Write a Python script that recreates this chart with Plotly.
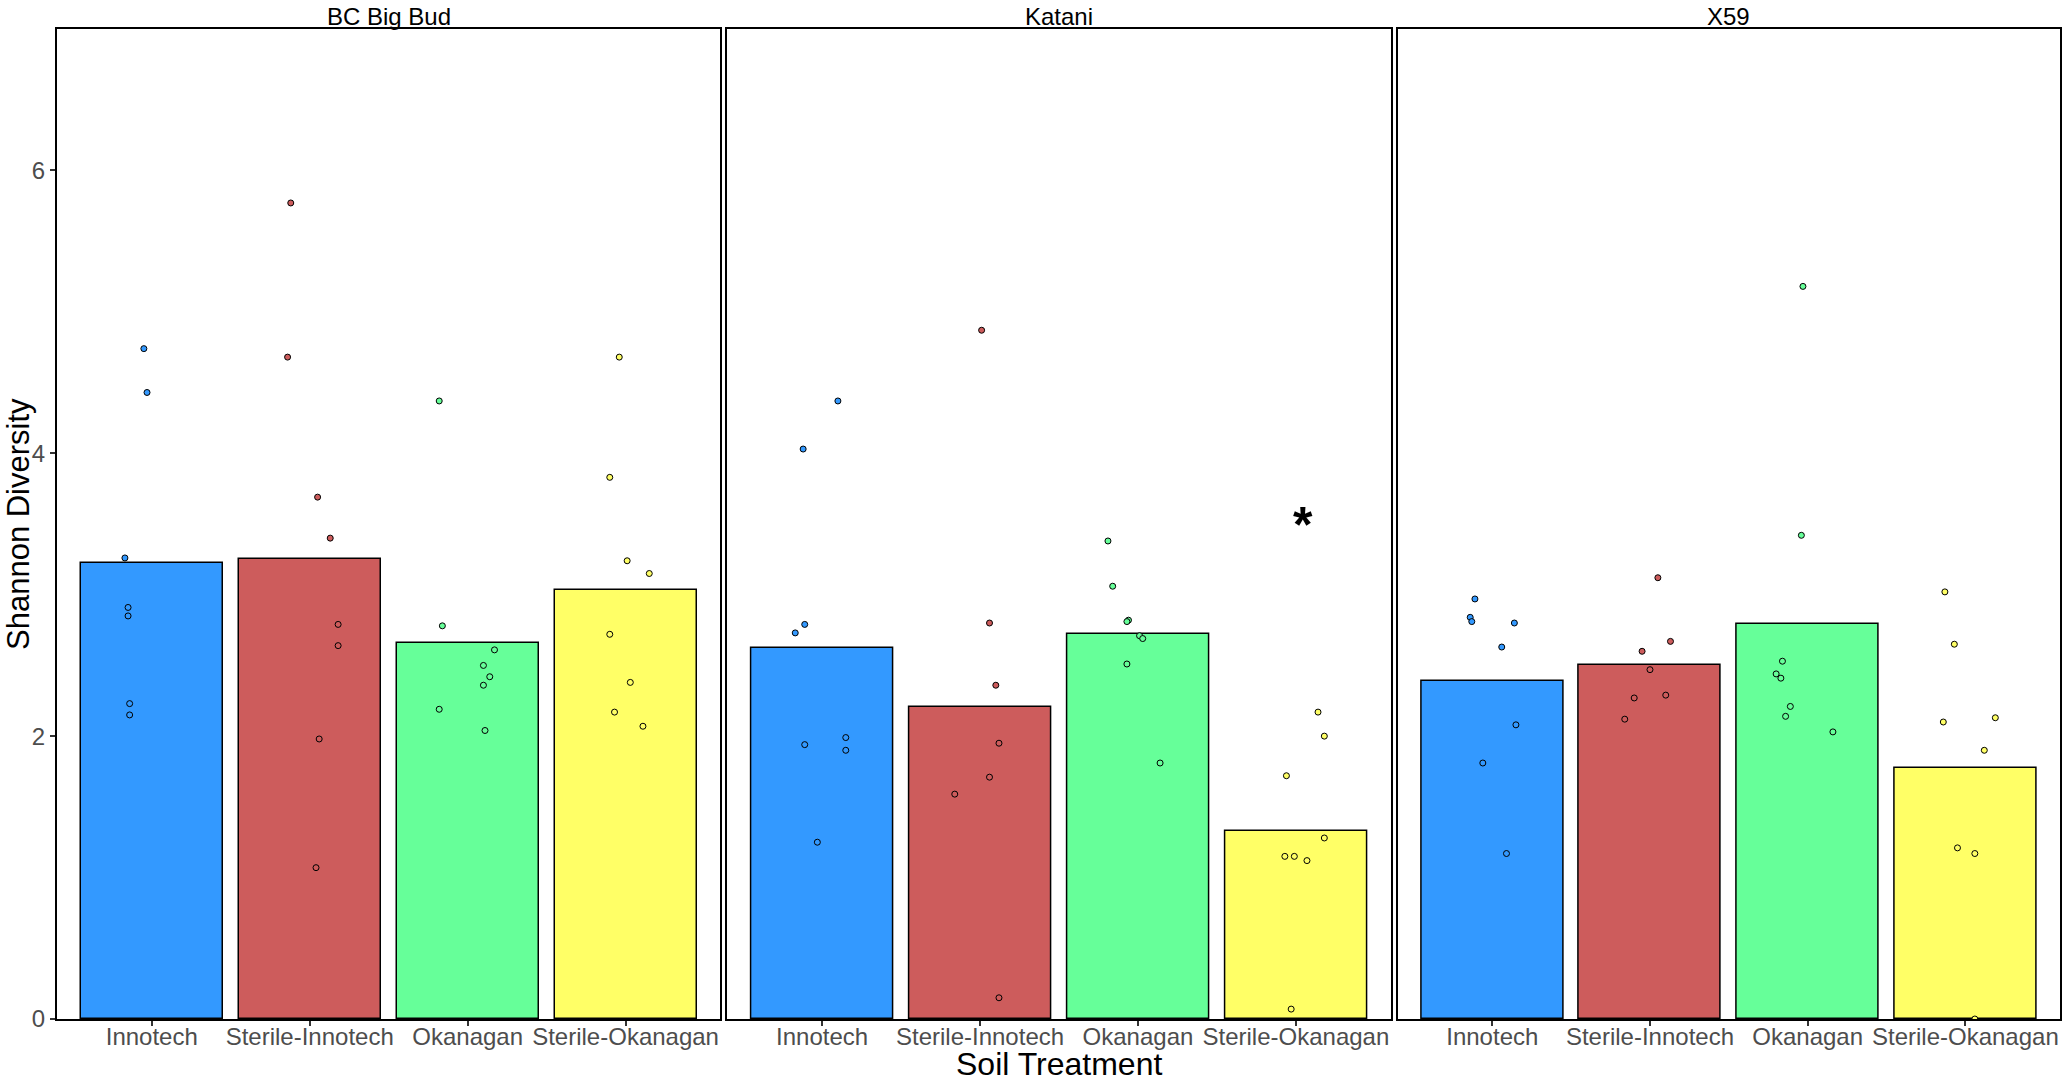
import plotly.graph_objects as go
from plotly.subplots import make_subplots
import numpy as np

cultivars = ["BC Big Bud", "Katani", "X59"]
treatments = ["Innotech", "Sterile-Innotech", "Okanagan", "Sterile-Okanagan"]
colours = ["#3399FF", "#CD5C5C", "#66FF99", "#FFFF66"]

# Shannon diversity of each sample
bigbud_innotech = [4.74, 4.43, 3.26, 2.91, 2.85, 2.23, 2.15]
bigbud_ster_innotech = [5.77, 4.68, 3.69, 3.40, 2.79, 2.64, 1.98, 1.07]
bigbud_okanagan = [4.37, 2.78, 2.61, 2.50, 2.42, 2.36, 2.19, 2.04]
bigbud_ster_okanagan = [4.68, 3.83, 3.24, 3.15, 2.72, 2.38, 2.17, 2.07]

katani_innotech = [4.37, 4.03, 2.79, 2.73, 1.99, 1.94, 1.90, 1.25]
katani_ster_innotech = [4.87, 2.80, 2.36, 1.95, 1.71, 1.59, 0.15]
katani_okanagan = [3.38, 3.06, 2.82, 2.81, 2.71, 2.69, 2.51, 1.81]
katani_ster_okanagan = [2.17, 2.00, 1.72, 1.28, 1.15, 1.15, 1.12, 0.07]

x59_innotech = [2.97, 2.84, 2.81, 2.80, 2.63, 2.08, 1.81, 1.17]
x59_ster_innotech = [3.12, 2.67, 2.60, 2.47, 2.29, 2.27, 2.12]
x59_okanagan = [5.18, 3.42, 2.53, 2.44, 2.41, 2.21, 2.14, 2.03]
x59_ster_okanagan = [3.02, 2.65, 2.10, 2.13, 1.90, 1.21, 1.17, 0.00]

# horizontal jitter of the sample points (fraction of a category)
bigbud_jitter = [
    [-0.05, -0.03, -0.17, -0.15, -0.15, -0.14, -0.14],
    [-0.12, -0.14, 0.05, 0.13, 0.18, 0.18, 0.06, 0.04],
    [-0.18, -0.16, 0.17, 0.10, 0.14, 0.10, -0.18, 0.11],
    [-0.04, -0.10, 0.01, 0.15, -0.10, 0.03, -0.07, 0.11],
]
katani_jitter = [
    [0.10, -0.12, -0.11, -0.17, 0.15, -0.11, 0.15, -0.03],
    [0.01, 0.06, 0.10, 0.12, 0.06, -0.16, 0.12],
    [-0.19, -0.16, -0.06, -0.07, 0.01, 0.03, -0.07, 0.14],
    [0.14, 0.18, -0.06, 0.18, -0.07, -0.01, 0.07, -0.03],
]
x59_jitter = [
    [-0.11, -0.14, -0.13, 0.14, 0.06, 0.15, -0.06, 0.09],
    [0.05, 0.13, -0.05, 0.00, 0.10, -0.10, -0.16],
    [-0.03, -0.04, -0.16, -0.20, -0.17, -0.11, -0.14, 0.16],
    [-0.13, -0.07, -0.14, 0.19, 0.12, -0.05, 0.06, 0.06],
]

# significance mark: (cultivar, treatment, y)
signif = [("Katani", "Sterile-Okanagan", 3.55)]

samples = {
    "BC Big Bud": [bigbud_innotech, bigbud_ster_innotech, bigbud_okanagan, bigbud_ster_okanagan],
    "Katani": [katani_innotech, katani_ster_innotech, katani_okanagan, katani_ster_okanagan],
    "X59": [x59_innotech, x59_ster_innotech, x59_okanagan, x59_ster_okanagan],
}
jitters = {"BC Big Bud": bigbud_jitter, "Katani": katani_jitter, "X59": x59_jitter}

FONT = "Liberation Sans, Arial, sans-serif"
pos = np.arange(1, len(treatments) + 1)

fig = make_subplots(rows=1, cols=3, shared_yaxes=True)

for c, cv in enumerate(cultivars):
    means = [np.mean(v) for v in samples[cv]]
    fig.add_trace(go.Bar(
        x=pos, y=means, width=0.9,
        marker=dict(color=colours, line=dict(color="black", width=1.5)),
        showlegend=False, hoverinfo="y"), row=1, col=c + 1)
    for t in range(len(treatments)):
        vals = samples[cv][t]
        xs = pos[t] + np.array(jitters[cv][t])
        fig.add_trace(go.Scatter(
            x=xs, y=vals, mode="markers",
            marker=dict(size=6, color=colours[t], line=dict(color="black", width=1)),
            showlegend=False, hoverinfo="y"), row=1, col=c + 1)

# page geometry (body margin is removed below, so figure = whole window)
W, H = 2072, 1082
L, R, T, B = 57, 10, 29, 63
pw = W - L - R
edges = [(57, 721), (728, 1392), (1399, 2062)]

for i, (a, b) in enumerate(edges):
    xa = "xaxis" if i == 0 else "xaxis%d" % (i + 1)
    ya = "yaxis" if i == 0 else "yaxis%d" % (i + 1)
    fig.layout[xa].update(
        domain=[(a - L) / pw, (b - L) / pw], range=[0.4, 4.6],
        tickmode="array", tickvals=list(pos), ticktext=treatments,
        showline=True, mirror=True, linecolor="black", linewidth=2,
        ticks="outside", ticklen=5, tickwidth=1.5, tickcolor="#333333",
        ticklabelstandoff=-10,
        tickfont=dict(family=FONT, size=24, color="#4D4D4D"),
        showgrid=False, zeroline=False, fixedrange=True)
    fig.layout[ya].update(
        range=[0, 7], tickmode="array", tickvals=[0, 2, 4, 6],
        showline=True, mirror=True, linecolor="black", linewidth=2,
        ticks="outside" if i == 0 else "", ticklen=5, tickwidth=1.5,
        tickcolor="#333333", showticklabels=(i == 0),
        tickfont=dict(family=FONT, size=24, color="#4D4D4D"),
        showgrid=False, zeroline=False, fixedrange=True)
    fig.add_annotation(
        text=cultivars[i], xref="paper", yref="paper",
        x=((a + b) / 2 - L) / pw, y=1, xanchor="center", yanchor="bottom",
        yshift=-3, showarrow=False, font=dict(family=FONT, size=24, color="black"))

for cv, tr, yv in signif:
    c = cultivars.index(cv)
    fig.add_annotation(
        text="<b>*</b>", x=pos[treatments.index(tr)], y=yv,
        xref="x%d" % (c + 1) if c else "x", yref="y%d" % (c + 1) if c else "y",
        showarrow=False, xshift=7, yshift=-8,
        font=dict(family=FONT, size=50, color="black"))

fig.add_annotation(text="Soil Treatment", xref="paper", yref="paper",
                   x=0.5, y=0, xanchor="center", yanchor="middle", yshift=-45,
                   showarrow=False, font=dict(family=FONT, size=32, color="black"))
fig.add_annotation(text="Shannon Diversity", xref="paper", yref="paper",
                   x=0, y=0.5, xanchor="center", yanchor="middle", xshift=-39,
                   textangle=-90, showarrow=False,
                   font=dict(family=FONT, size=31, color="black"))

fig.update_layout(
    width=W, height=H, margin=dict(l=L, r=R, t=T, b=B),
    plot_bgcolor="white", paper_bgcolor="white", bargap=0,
    font=dict(family=FONT))

fig.write_html("out.html", config={"displayModeBar": False},
               post_script="document.body.style.margin='0';"
                           "document.body.style.overflow='hidden';")
